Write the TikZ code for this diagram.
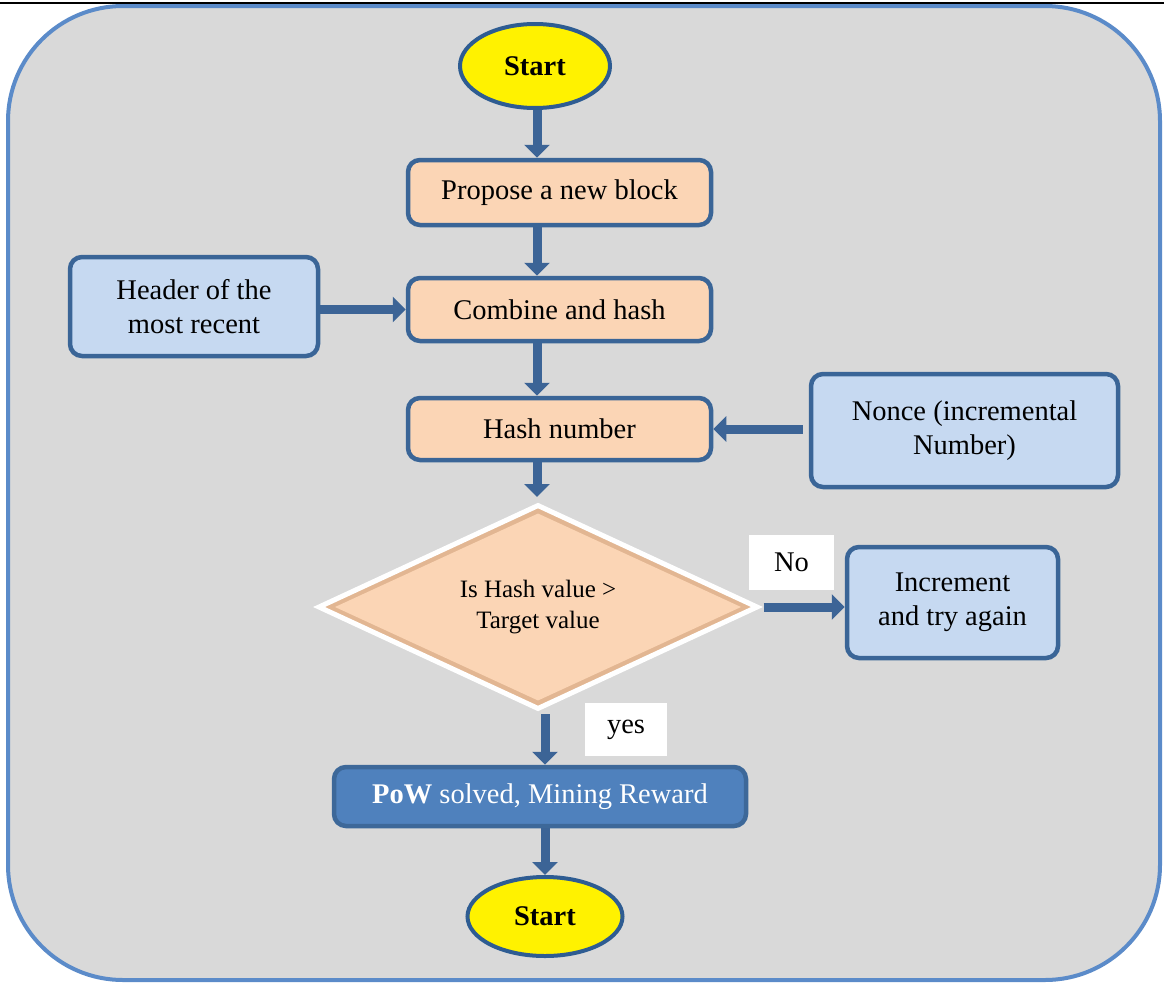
\documentclass[tikz,border=0pt]{standalone}
\usepackage{fontspec}
\setmainfont{Liberation Serif}
\usetikzlibrary{shapes.geometric,arrows.meta}
\definecolor{bg}{HTML}{D9D9D9}
\definecolor{frameb}{HTML}{5B8BC9}
\definecolor{peach}{HTML}{FBD5B5}
\definecolor{peachdk}{HTML}{E2B692}
\definecolor{lblue}{HTML}{C6D9F1}
\definecolor{bord}{HTML}{3A6597}
\definecolor{arr}{HTML}{3C6496}
\definecolor{pow}{HTML}{4F81BD}
\definecolor{powb}{HTML}{3D6899}
\definecolor{ybord}{HTML}{2E5C92}
\newcommand{\mainfs}{\fontsize{28.5}{34}\selectfont}
\newcommand{\diafs}{\fontsize{25}{31}\selectfont}
\begin{document}
\begin{tikzpicture}[x=1pt,y=-1pt,
  proc/.style={draw=bord, line width=4.5pt, fill=peach, rounded corners=12pt,
    inner sep=0pt, align=center, font=\mainfs},
  side/.style={proc, fill=lblue},
  term/.style={ellipse, draw=ybord, line width=4pt, fill=yellow, inner sep=0pt,
    font=\bfseries\mainfs},
  lab/.style={fill=white, inner sep=0pt, font=\mainfs},
  flow/.style={line width=9pt, draw=arr, -{Triangle[length=13pt,width=25pt]}}]
\useasboundingbox (0,0) rectangle (1164,985);
\fill[white] (0,0) rectangle (1164,985);
% top rule
\draw[black, line width=2.5pt] (0,3) -- (1164,3);
% frame
\draw[frameb, fill=bg, line width=4pt, rounded corners=115pt] (8,6) rectangle (1160,980);

% nodes
\node[term, minimum width=150pt, minimum height=84pt] (start1) at (535,66) {Start};
\coordinate (ax) at (537,0);
\node[proc, minimum width=303pt, minimum height=65pt] (propose) at (559.5,192.5) {Propose a new block};
\node[proc, minimum width=303pt, minimum height=63pt] (combine) at (559.5,309.5) {Combine and hash};
\node[proc, minimum width=303pt, minimum height=62pt] (hash) at (559.5,429) {Hash number};
\node[side, minimum width=248pt, minimum height=99pt] (header) at (194,306.5) {Header of the\\most recent};
\node[side, minimum width=307pt, minimum height=113pt] (nonce) at (964.5,430.5) {Nonce (incremental\\Number)};
\node[diamond, aspect=2.12, minimum width=440pt, minimum height=205pt, inner sep=0pt,
  draw=white, line width=5pt, fill=peachdk, align=center, font=\diafs,
  path picture={\fill[peach] ([xshift=16pt]path picture bounding box.west)
     -- ([yshift=-8pt]path picture bounding box.north)
     -- ([xshift=-16pt]path picture bounding box.east)
     -- ([yshift=8pt]path picture bounding box.south) -- cycle;}] (dia) at (538,607) {Is Hash value >\\Target value};
\node[side, minimum width=211pt, minimum height=111pt] (incr) at (952.5,602.5) {Increment\\and try again};
\node[lab, minimum width=85pt, minimum height=55pt] (no) at (791.5,562.5) {No};
\node[lab, minimum width=82pt, minimum height=53pt] (yes) at (626,729.5) {yes};
\node[proc, fill=pow, draw=powb, text=white, minimum width=412pt, minimum height=59pt] (pow) at (540,796.5) {\textbf{PoW} solved, Mining Reward};
\node[term, minimum width=155pt, minimum height=79pt] (start2) at (545,916.5) {Start};
\coordinate (bx) at (545,0);

% connectors
\draw[flow] (start1.south -| ax) -- (propose.north -| ax);
\draw[flow] (propose.south -| ax) -- (combine.north -| ax);
\draw[flow] (combine.south -| ax) -- (hash.north -| ax);
\draw[flow] (hash.south -| ax) -- ([yshift=5pt]dia.north -| ax);
\draw[flow] (header.east |- combine.west) -- (combine.west);
\draw[flow, shorten <=6pt] (nonce.west |- hash.east) -- (hash.east);
\draw[flow, shorten <=3pt] (dia.east) -- (incr.west |- dia.east);
\draw[flow, shorten <=2pt] (dia.south -| bx) -- (pow.north -| bx);
\draw[flow] (pow.south -| bx) -- (start2.north);
\end{tikzpicture}
\end{document}
